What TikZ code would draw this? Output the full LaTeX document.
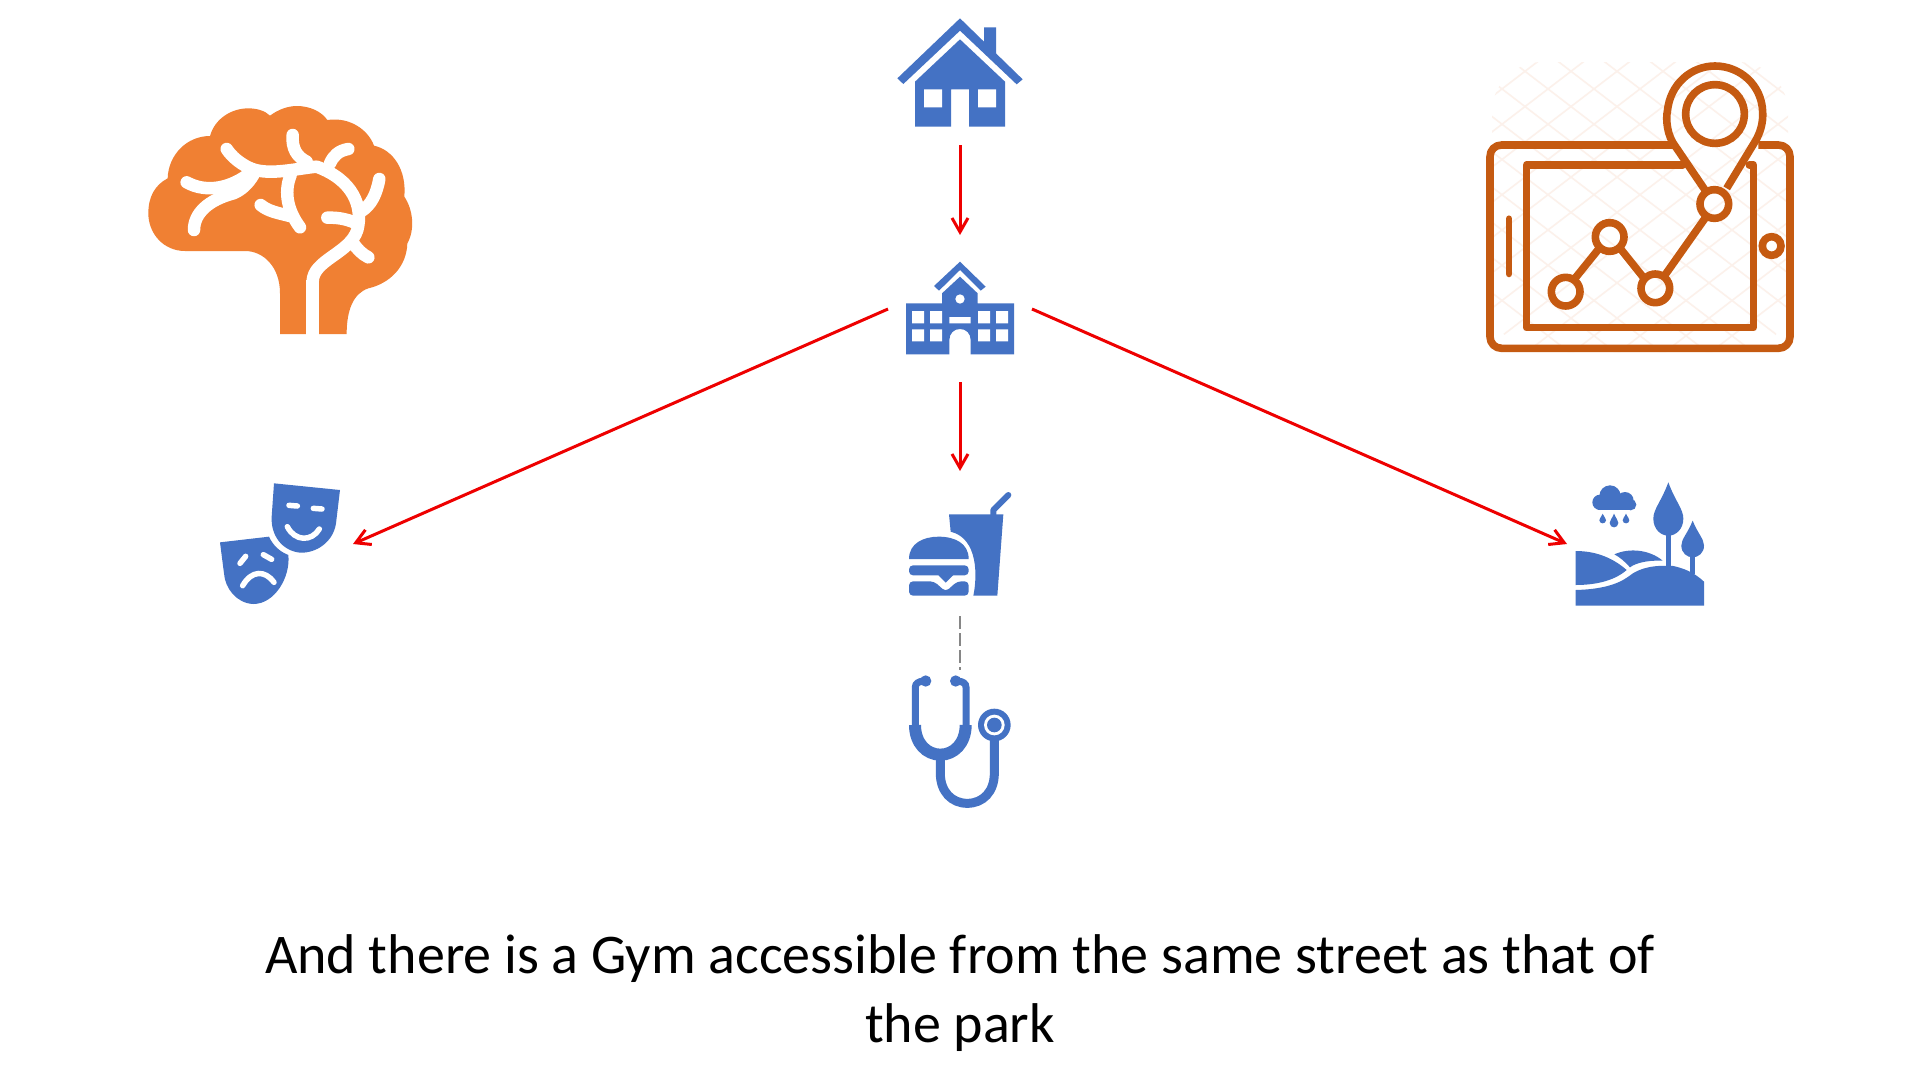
\documentclass[tikz,border=0pt]{standalone}
\usepackage{fontspec}
\setmainfont{Carlito}
\usetikzlibrary{arrows.meta}
\definecolor{iconblue}{HTML}{4472C4}
\definecolor{brainorange}{HTML}{F08033}
\definecolor{maporange}{HTML}{C55A11}
\definecolor{hatch}{HTML}{FCF1EB}
\definecolor{arrowred}{HTML}{EE0000}
\tikzset{
  anchorbox/.style={minimum width=#1,inner sep=0pt,outer sep=0pt,draw=none},
  redarrow/.style={draw=arrowred,line width=3pt,-{Straight Barb[length=14pt,width=16pt,line width=3pt]}},
  greydash/.style={draw=gray!95,line width=2pt,dash pattern=on 13pt off 4pt},
  zoomed/.style={x=0.33333pt,y=-0.33333pt},
  mapline/.style={draw=maporange,line width=7.6pt},
  whitevein/.style={draw=white,line width=12.5pt,line cap=round,line join=round},
  blueface/.style={draw=white,line width=5.5pt,line cap=round},
  caption/.style={align=center,font=\fontsize{56pt}{68.6pt}\selectfont,text=black,inner sep=0pt},
}
\newcommand{\teardrop}[4]{% x centre, top y, half width, bottom y
  \fill[iconblue] (#1,#2) .. controls ({#1-0.45*#3},{#2+0.35*(#4-#2)}) and ({#1-#3},{#2+0.5*(#4-#2)}) .. ({#1-#3},{#2+0.68*(#4-#2)})
   .. controls ({#1-#3},{#2+0.88*(#4-#2)}) and ({#1-0.5*#3},#4) .. (#1,#4)
   .. controls ({#1+0.5*#3},#4) and ({#1+#3},{#2+0.88*(#4-#2)}) .. ({#1+#3},{#2+0.68*(#4-#2)})
   .. controls ({#1+#3},{#2+0.5*(#4-#2)}) and ({#1+0.45*#3},{#2+0.35*(#4-#2)}) .. (#1,#2) -- cycle;}
\begin{document}
\begin{tikzpicture}[x=1pt,y=-1pt]
\useasboundingbox (0,0) rectangle (1920,1088);
\fill[white] (0,0) rectangle (1920,1088);

% anchor boxes for the connectors
\node[anchorbox=126pt,minimum height=109pt] (house) at (960,72.5) {};
\node[anchorbox=144pt,minimum height=94pt] (school) at (960,309) {};
\node[anchorbox=146pt,minimum height=122pt] (masks) at (280,544) {};
\node[anchorbox=102pt,minimum height=104pt] (food) at (960,544) {};
\node[anchorbox=146pt,minimum height=124pt] (park) at (1640,544) {};
\node[anchorbox=102pt,minimum height=133pt] (steth) at (960,741.5) {};

% brain
\begin{scope}[shift={(120,80)},zoomed]
\fill[brainorange] (480,762) -- (480,640) .. controls (480,560) and (430,513) .. (375,513)
 -- (195,513) .. controls (130,513) and (85,460) .. (85,400)
 .. controls (85,350) and (105,315) .. (143,295)
 .. controls (145,225) and (200,168) .. (270,168)
 .. controls (285,115) and (335,85) .. (385,85) .. controls (410,85) and (435,92) .. (450,107)
 .. controls (475,88) and (505,78) .. (530,78) .. controls (570,78) and (605,95) .. (622,120)
 .. controls (690,110) and (745,150) .. (762,197)
 .. controls (820,210) and (860,270) .. (853,350)
 .. controls (880,390) and (885,450) .. (862,490)
 .. controls (860,560) and (810,610) .. (745,625)
 .. controls (700,640) and (680,690) .. (680,762) -- cycle;
\draw[whitevein,line cap=butt] (578,765) -- (578,600);
\draw[whitevein] (578,605) .. controls (578,540) and (690,520) .. (712,450)
  .. controls (730,380) and (700,300) .. (590,260)
  .. controls (530,265) and (440,290) .. (385,262) .. controls (360,250) and (335,230) .. (320,207);
\draw[whitevein] (518,165) .. controls (515,205) and (530,230) .. (560,245);
\draw[whitevein] (685,207) .. controls (655,212) and (640,228) .. (630,250);
\draw[whitevein] (778,297) .. controls (770,340) and (755,375) .. (722,395);
\draw[whitevein] (622,413) .. controls (660,412) and (690,420) .. (712,432);
\draw[whitevein] (745,532) .. controls (725,522) and (710,505) .. (700,490);
\draw[whitevein] (200,307) .. controls (260,340) and (335,325) .. (395,275);
\draw[whitevein] (222,450) .. controls (222,400) and (265,360) .. (340,340) .. controls (365,330) and (385,310) .. (400,285);
\draw[whitevein] (512,285) .. controls (490,340) and (505,395) .. (540,442);
\draw[whitevein] (422,375) .. controls (445,395) and (480,400) .. (510,408);
\end{scope}

% house
\begin{scope}[shift={(860,0)},zoomed]
\fill[iconblue] (372,82) -- (408,82) -- (408,165) -- (372,130) -- cycle;
\fill[iconblue] (300,55) -- (488,238) -- (470,253) -- (300,92) -- (130,252) -- (112,235) -- cycle;
\fill[iconblue] (300,118) -- (435,245) -- (435,380) -- (327,380) -- (327,268) -- (273,268) -- (273,380) -- (165,380) -- (165,245) -- cycle;
\fill[white] (192,268) rectangle (246,322) (354,268) rectangle (408,322);
% school
\fill[iconblue] (300,785) -- (377,860) -- (362,872) -- (300,810) -- (237,872) -- (222,858) -- cycle;
\fill[iconblue] (300,830) -- (353,880) -- (353,910) -- (462,910) -- (462,1063) -- (332,1063) -- (332,1020)
  .. controls (332,1000) and (318,987) .. (300,987) .. controls (282,987) and (268,1000) .. (268,1020)
  -- (268,1063) -- (138,1063) -- (138,910) -- (246,910) -- (246,880) -- cycle;
\fill[white] (156,933) rectangle (192,970) (210,933) rectangle (246,970)
  (156,988) rectangle (192,1024) (210,988) rectangle (246,1024)
  (354,933) rectangle (390,970) (408,933) rectangle (444,970)
  (354,988) rectangle (390,1024) (408,988) rectangle (444,1024)
  (268,951) rectangle (332,970);
\fill[white] (300,897) circle[radius=14];
\end{scope}

% map
\begin{scope}
\clip[rounded corners=50pt] (1492,62) rectangle (1788,352);
\foreach \k in {-16,...,16}{
  \draw[hatch,line width=1.6pt] ({1640+\k*46-300},0) -- ({1640+\k*46+300},460);
  \draw[hatch,line width=1.6pt] ({1640+\k*46+300},0) -- ({1640+\k*46-300},460);
}
\end{scope}
\begin{scope}[shift={(1460,40)},zoomed]
\draw[mapline,line join=round] (645,315) -- (125,315) .. controls (105,315) and (90,330) .. (90,350)
  -- (90,890) .. controls (90,910) and (105,925) .. (125,925) -- (955,925)
  .. controls (975,925) and (990,910) .. (990,890) -- (990,350)
  .. controls (990,330) and (975,315) .. (955,315) -- (895,315);
\draw[mapline,line join=round,line cap=round] (668,375) -- (200,375) -- (200,863) -- (880,863) -- (880,375) -- (868,375);
\draw[mapline] (735,450) -- (640,310) .. controls (615,270) and (620,220) .. (622,215)
  .. controls (630,130) and (695,78) .. (765,78) .. controls (840,78) and (905,135) .. (908,215)
  .. controls (910,250) and (900,280) .. (885,305) -- (800,445);
\draw[mapline] (765,222) circle[radius=88];
\draw[mapline] (345,715) -- (420,622) (478,622) -- (550,712) (615,705) -- (735,535);
\draw[mapline] (763,492) circle[radius=43];
\draw[mapline] (449,591) circle[radius=43];
\draw[mapline] (586,745) circle[radius=43];
\draw[mapline] (317,755) circle[radius=43];
\draw[mapline] (935,618) circle[radius=28];
\draw[mapline,line width=6.5pt,line cap=round] (147,536) -- (147,702);
\end{scope}

% masks
\begin{scope}[shift={(200,460)},zoomed]
\fill[iconblue] (222,70) -- (420,90) -- (408,190) .. controls (400,245) and (350,280) .. (300,278)
  .. controls (245,272) and (212,225) .. (215,170) -- cycle;
\fill[iconblue] (60,247) -- (207,230) .. controls (220,258) and (240,275) .. (265,285)
  .. controls (272,350) and (225,432) .. (160,432) .. controls (110,430) and (75,385) .. (72,340) -- cycle;
\draw[blueface] (267,136) -- (292,138) (340,145) -- (366,147);
\draw[blueface] (262,200) .. controls (285,245) and (335,245) .. (358,207);
\draw[blueface] (120,310) -- (137,289) (190,284) -- (215,298);
\draw[blueface] (128,377) .. controls (155,330) and (195,330) .. (222,367);
\end{scope}

% food
\begin{scope}[shift={(880,480)},zoomed]
\fill[iconblue] (87,237) .. controls (87,190) and (130,170) .. (176,170) .. controls (225,170) and (266,190) .. (266,237) -- cycle;
\fill[iconblue,rounded corners=4pt] (87,256) rectangle (266,286);
\fill[iconblue] (170,280) -- (225,280) -- (197,308) -- cycle;
\fill[iconblue,rounded corners=4pt] (87,304) -- (162,304) -- (197,335) -- (232,304) -- (266,304) -- (266,347) -- (87,347) -- cycle;
\fill[iconblue] (207,103) -- (370,103) -- (352,347) -- (280,347) .. controls (292,290) and (295,175) .. (212,155) -- cycle;
\draw[iconblue,line width=6pt,line cap=round,line join=round] (340,105) -- (340,90) -- (385,45);
% stethoscope
\fill[iconblue] (137,603) circle[radius=17] (227,603) circle[radius=17];
\draw[iconblue,line width=7pt,line join=round] (106,745) -- (106,622) .. controls (106,610) and (115,605) .. (130,603);
\draw[iconblue,line width=7pt] (258,745) -- (258,622) .. controls (258,610) and (249,605) .. (234,603);
\draw[iconblue,line width=12pt] (105,735) .. controls (105,790) and (140,824) .. (181,824) .. controls (222,824) and (257,790) .. (257,735);
\draw[iconblue,line width=9pt] (181,825) -- (181,880) .. controls (181,935) and (215,970) .. (262,970) .. controls (309,970) and (343,935) .. (343,880) -- (343,770);
\fill[iconblue] (343,735) circle[radius=49];
\fill[white] (343,735) circle[radius=31];
\fill[iconblue] (343,735) circle[radius=22];
\end{scope}

% park
\begin{scope}[shift={(1550,470)},zoomed]
\fill[iconblue] (180,78) circle[radius=32] (150,97) circle[radius=23] (225,92) circle[radius=26] (242,104) circle[radius=17];
\fill[iconblue] (145,95) rectangle (242,121);
\teardrop{158}{131}{10}{160}
\teardrop{192}{131}{13}{172}
\teardrop{228}{131}{10}{160}
\teardrop{355}{37}{45}{197}
\teardrop{428}{152}{34}{262}
\fill[iconblue] (347,190) rectangle (363,295);
\fill[iconblue] (419,255) rectangle (436,312);
\fill[iconblue] (77,243) .. controls (140,243) and (190,265) .. (230,300) .. controls (190,335) and (130,345) .. (77,345) -- cycle;
\fill[iconblue] (193,253) .. controls (240,232) and (300,240) .. (338,272) .. controls (290,270) and (255,280) .. (240,292) .. controls (225,275) and (210,262) .. (193,253) -- cycle;
\fill[iconblue] (77,360) .. controls (150,358) and (200,345) .. (235,320) .. controls (270,290) and (320,285) .. (370,288) .. controls (400,295) and (430,305) .. (462,335) -- (462,407) -- (77,407) -- cycle;
\end{scope}

% connectors
\draw[redarrow,shorten <=18pt,shorten >=27pt] (house.south) -- (school.north);
\draw[redarrow,shorten <=26pt,shorten >=21pt] (school.south) -- (food.north);
\draw[redarrow] (school.west) -- (masks.east);
\draw[redarrow] (school.east) -- (park.west);
\draw[greydash,shorten <=20pt,shorten >=5pt] (food.south) -- (steth.north);

% caption
\node[caption] (cap) at (960,993) {And there is a Gym accessible from the same street as that of\\the park};
\end{tikzpicture}
\end{document}
